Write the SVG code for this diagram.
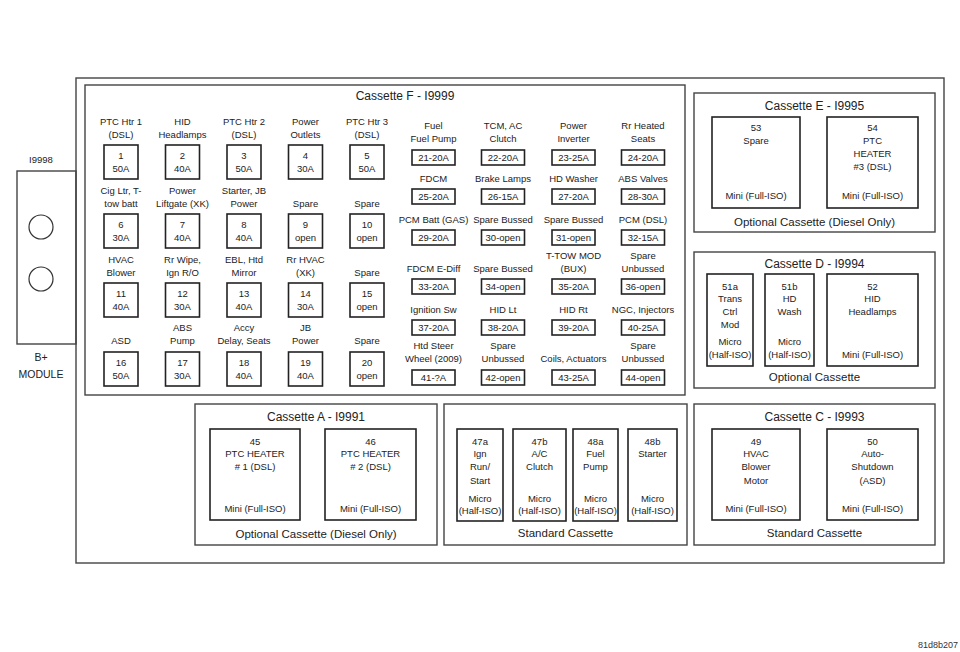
<svg xmlns="http://www.w3.org/2000/svg" width="960" height="652" viewBox="0 0 960 652">
<style>
text{font-family:"Liberation Sans",Arial,sans-serif;fill:#222;text-anchor:middle}
.s{font-size:9.5px}
.t{font-size:12px}
.b{font-size:11.5px}
.frame{fill:none;stroke:#444;stroke-width:1.4}
.box{fill:#fff;stroke:#222;stroke-width:1.6}
.fb{fill:#fff;stroke:#222;stroke-width:1.6}
</style>
<rect width="960" height="652" fill="#fff"/>
<g id="enclosure">
<rect class="frame" x="76" y="78" width="868" height="485"/>
</g>
<g id="bplus-module">
<rect class="frame" x="17" y="171" width="59" height="173"/>
<circle cx="41" cy="227" r="12" fill="none" stroke="#333" stroke-width="1.2"/>
<circle cx="41" cy="279" r="12" fill="none" stroke="#333" stroke-width="1.2"/>
<text class="s" x="41" y="163">I9998</text>
<text class="s" x="41" y="361" style="font-size:10.5px">B+</text>
<text class="s" x="41" y="378" style="font-size:10.5px">MODULE</text>
</g>
<g id="connectors"></g>
<g id="cassette-f">
<rect class="frame" x="85" y="85" width="600" height="310"/>
<text class="t" x="405" y="100">Cassette F - I9999</text>
<!-- row 1 -->
<g class="s">
<text x="121" y="125">PTC Htr 1</text><text x="121" y="138">(DSL)</text>
<rect class="fb" x="104" y="145" width="34" height="34"/><text x="121" y="159">1</text><text x="121" y="172">50A</text>
<text x="182.5" y="125">HID</text><text x="182.5" y="138">Headlamps</text>
<rect class="fb" x="165.5" y="145" width="34" height="34"/><text x="182.5" y="159">2</text><text x="182.5" y="172">40A</text>
<text x="244" y="125">PTC Htr 2</text><text x="244" y="138">(DSL)</text>
<rect class="fb" x="227" y="145" width="34" height="34"/><text x="244" y="159">3</text><text x="244" y="172">50A</text>
<text x="305.5" y="125">Power</text><text x="305.5" y="138">Outlets</text>
<rect class="fb" x="288.5" y="145" width="34" height="34"/><text x="305.5" y="159">4</text><text x="305.5" y="172">30A</text>
<text x="367" y="125">PTC Htr 3</text><text x="367" y="138">(DSL)</text>
<rect class="fb" x="350" y="145" width="34" height="34"/><text x="367" y="159">5</text><text x="367" y="172">50A</text>
<!-- row 2 -->
<text x="121" y="194">Cig Ltr, T-</text><text x="121" y="207">tow batt</text>
<rect class="fb" x="104" y="214" width="34" height="34"/><text x="121" y="228">6</text><text x="121" y="241">30A</text>
<text x="182.5" y="194">Power</text><text x="182.5" y="207">Liftgate (XK)</text>
<rect class="fb" x="165.5" y="214" width="34" height="34"/><text x="182.5" y="228">7</text><text x="182.5" y="241">40A</text>
<text x="244" y="194">Starter, JB</text><text x="244" y="207">Power</text>
<rect class="fb" x="227" y="214" width="34" height="34"/><text x="244" y="228">8</text><text x="244" y="241">40A</text>
<text x="305.5" y="207">Spare</text>
<rect class="fb" x="288.5" y="214" width="34" height="34"/><text x="305.5" y="228">9</text><text x="305.5" y="241">open</text>
<text x="367" y="207">Spare</text>
<rect class="fb" x="350" y="214" width="34" height="34"/><text x="367" y="228">10</text><text x="367" y="241">open</text>
<!-- row 3 -->
<text x="121" y="263">HVAC</text><text x="121" y="276">Blower</text>
<rect class="fb" x="104" y="283" width="34" height="34"/><text x="121" y="297">11</text><text x="121" y="310">40A</text>
<text x="182.5" y="263">Rr Wipe,</text><text x="182.5" y="276">Ign R/O</text>
<rect class="fb" x="165.5" y="283" width="34" height="34"/><text x="182.5" y="297">12</text><text x="182.5" y="310">30A</text>
<text x="244" y="263">EBL, Htd</text><text x="244" y="276">Mirror</text>
<rect class="fb" x="227" y="283" width="34" height="34"/><text x="244" y="297">13</text><text x="244" y="310">40A</text>
<text x="305.5" y="263">Rr HVAC</text><text x="305.5" y="276">(XK)</text>
<rect class="fb" x="288.5" y="283" width="34" height="34"/><text x="305.5" y="297">14</text><text x="305.5" y="310">30A</text>
<text x="367" y="276">Spare</text>
<rect class="fb" x="350" y="283" width="34" height="34"/><text x="367" y="297">15</text><text x="367" y="310">open</text>
<!-- row 4 -->
<text x="121" y="344">ASD</text>
<rect class="fb" x="104" y="352" width="34" height="34"/><text x="121" y="366">16</text><text x="121" y="379">50A</text>
<text x="182.5" y="331">ABS</text><text x="182.5" y="344">Pump</text>
<rect class="fb" x="165.5" y="352" width="34" height="34"/><text x="182.5" y="366">17</text><text x="182.5" y="379">30A</text>
<text x="244" y="331">Accy</text><text x="244" y="344">Delay, Seats</text>
<rect class="fb" x="227" y="352" width="34" height="34"/><text x="244" y="366">18</text><text x="244" y="379">40A</text>
<text x="305.5" y="331">JB</text><text x="305.5" y="344">Power</text>
<rect class="fb" x="288.5" y="352" width="34" height="34"/><text x="305.5" y="366">19</text><text x="305.5" y="379">40A</text>
<text x="367" y="344">Spare</text>
<rect class="fb" x="350" y="352" width="34" height="34"/><text x="367" y="366">20</text><text x="367" y="379">open</text>
<!-- right columns -->
<text x="433.5" y="129">Fuel</text><text x="433.5" y="142">Fuel Pump</text>
<rect class="fb" x="412" y="150" width="43" height="15"/><text x="433.5" y="161">21-20A</text>
<text x="503" y="129">TCM, AC</text><text x="503" y="142">Clutch</text>
<rect class="fb" x="481.5" y="150" width="43" height="15"/><text x="503" y="161">22-20A</text>
<text x="573.5" y="129">Power</text><text x="573.5" y="142">Inverter</text>
<rect class="fb" x="552" y="150" width="43" height="15"/><text x="573.5" y="161">23-25A</text>
<text x="643" y="129">Rr Heated</text><text x="643" y="142">Seats</text>
<rect class="fb" x="621.5" y="150" width="43" height="15"/><text x="643" y="161">24-20A</text>

<text x="433.5" y="182">FDCM</text>
<rect class="fb" x="412" y="189" width="43" height="15"/><text x="433.5" y="200">25-20A</text>
<text x="503" y="182">Brake Lamps</text>
<rect class="fb" x="481.5" y="189" width="43" height="15"/><text x="503" y="200">26-15A</text>
<text x="573.5" y="182">HD Washer</text>
<rect class="fb" x="552" y="189" width="43" height="15"/><text x="573.5" y="200">27-20A</text>
<text x="643" y="182">ABS Valves</text>
<rect class="fb" x="621.5" y="189" width="43" height="15"/><text x="643" y="200">28-30A</text>

<text x="433.5" y="223">PCM Batt (GAS)</text>
<rect class="fb" x="412" y="230" width="43" height="15"/><text x="433.5" y="241">29-20A</text>
<text x="503" y="223">Spare Bussed</text>
<rect class="fb" x="481.5" y="230" width="43" height="15"/><text x="503" y="241">30-open</text>
<text x="573.5" y="223">Spare Bussed</text>
<rect class="fb" x="552" y="230" width="43" height="15"/><text x="573.5" y="241">31-open</text>
<text x="643" y="223">PCM (DSL)</text>
<rect class="fb" x="621.5" y="230" width="43" height="15"/><text x="643" y="241">32-15A</text>

<text x="433.5" y="272">FDCM E-Diff</text>
<rect class="fb" x="412" y="279" width="43" height="15"/><text x="433.5" y="290">33-20A</text>
<text x="503" y="272">Spare Bussed</text>
<rect class="fb" x="481.5" y="279" width="43" height="15"/><text x="503" y="290">34-open</text>
<text x="573.5" y="259">T-TOW MOD</text><text x="573.5" y="272">(BUX)</text>
<rect class="fb" x="552" y="279" width="43" height="15"/><text x="573.5" y="290">35-20A</text>
<text x="643" y="259">Spare</text><text x="643" y="272">Unbussed</text>
<rect class="fb" x="621.5" y="279" width="43" height="15"/><text x="643" y="290">36-open</text>

<text x="433.5" y="313">Ignition Sw</text>
<rect class="fb" x="412" y="320" width="43" height="15"/><text x="433.5" y="331">37-20A</text>
<text x="503" y="313">HID Lt</text>
<rect class="fb" x="481.5" y="320" width="43" height="15"/><text x="503" y="331">38-20A</text>
<text x="573.5" y="313">HID Rt</text>
<rect class="fb" x="552" y="320" width="43" height="15"/><text x="573.5" y="331">39-20A</text>
<text x="643" y="313">NGC, Injectors</text>
<rect class="fb" x="621.5" y="320" width="43" height="15"/><text x="643" y="331">40-25A</text>

<text x="433.5" y="349">Htd Steer</text><text x="433.5" y="362">Wheel (2009)</text>
<rect class="fb" x="412" y="370" width="43" height="15"/><text x="433.5" y="381">41-?A</text>
<text x="503" y="349">Spare</text><text x="503" y="362">Unbussed</text>
<rect class="fb" x="481.5" y="370" width="43" height="15"/><text x="503" y="381">42-open</text>
<text x="573.5" y="362">Coils, Actuators</text>
<rect class="fb" x="552" y="370" width="43" height="15"/><text x="573.5" y="381">43-25A</text>
<text x="643" y="349">Spare</text><text x="643" y="362">Unbussed</text>
<rect class="fb" x="621.5" y="370" width="43" height="15"/><text x="643" y="381">44-open</text>
</g>
</g>
<g id="cassette-e">
<rect class="frame" x="694" y="93" width="241" height="139"/>
<text class="t" x="814.5" y="110">Cassette E - I9995</text>
<rect class="box" x="712" y="117" width="88" height="91"/>
<rect class="box" x="827" y="117" width="91" height="91"/>
<g class="s">
<text x="756" y="131">53</text><text x="756" y="144">Spare</text><text x="756" y="199">Mini (Full-ISO)</text>
<text x="872.5" y="131">54</text><text x="872.5" y="144">PTC</text><text x="872.5" y="157">HEATER</text><text x="872.5" y="170">#3 (DSL)</text><text x="872.5" y="199">Mini (Full-ISO)</text>
</g>
<text class="b" x="814.5" y="226">Optional Cassette (Diesel Only)</text>
</g>
<g id="cassette-d">
<rect class="frame" x="694" y="252" width="241" height="136"/>
<text class="t" x="814.5" y="268">Cassette D - I9994</text>
<rect class="box" x="707" y="274" width="46" height="92"/>
<rect class="box" x="765" y="274" width="49" height="92"/>
<rect class="box" x="827" y="274" width="91" height="92"/>
<g class="s">
<text x="730" y="290">51a</text><text x="730" y="302">Trans</text><text x="730" y="315">Ctrl</text><text x="730" y="328">Mod</text><text x="730" y="345">Micro</text><text x="730" y="358">(Half-ISO)</text>
<text x="789.5" y="290">51b</text><text x="789.5" y="302">HD</text><text x="789.5" y="315">Wash</text><text x="789.5" y="345">Micro</text><text x="789.5" y="358">(Half-ISO)</text>
<text x="872.5" y="290">52</text><text x="872.5" y="302">HID</text><text x="872.5" y="315">Headlamps</text><text x="872.5" y="358">Mini (Full-ISO)</text>
</g>
<text class="b" x="814.5" y="381">Optional Cassette</text>
</g>
<g id="cassette-a">
<rect class="frame" x="195" y="404" width="242" height="141"/>
<text class="t" x="316" y="421">Cassette A - I9991</text>
<rect class="box" x="210" y="429" width="90" height="91"/>
<rect class="box" x="325" y="429" width="91" height="91"/>
<g class="s">
<text x="255" y="445">45</text><text x="255" y="457">PTC HEATER</text><text x="255" y="470"># 1 (DSL)</text><text x="255" y="512">Mini (Full-ISO)</text>
<text x="370.5" y="445">46</text><text x="370.5" y="457">PTC HEATER</text><text x="370.5" y="470"># 2 (DSL)</text><text x="370.5" y="512">Mini (Full-ISO)</text>
</g>
<text class="b" x="316" y="538">Optional Cassette (Diesel Only)</text>
</g>
<g id="standard-cassette">
<rect class="frame" x="444" y="404" width="243" height="141"/>
<rect class="box" x="457" y="429" width="46" height="92"/>
<rect class="box" x="513" y="429" width="53" height="92"/>
<rect class="box" x="573" y="429" width="45" height="92"/>
<rect class="box" x="628" y="429" width="49" height="92"/>
<g class="s">
<text x="480" y="445">47a</text><text x="480" y="457">Ign</text><text x="480" y="470">Run/</text><text x="480" y="484">Start</text><text x="480" y="502">Micro</text><text x="480" y="514">(Half-ISO)</text>
<text x="539.5" y="445">47b</text><text x="539.5" y="457">A/C</text><text x="539.5" y="470">Clutch</text><text x="539.5" y="502">Micro</text><text x="539.5" y="514">(Half-ISO)</text>
<text x="595.5" y="445">48a</text><text x="595.5" y="457">Fuel</text><text x="595.5" y="470">Pump</text><text x="595.5" y="502">Micro</text><text x="595.5" y="514">(Half-ISO)</text>
<text x="652.5" y="445">48b</text><text x="652.5" y="457">Starter</text><text x="652.5" y="502">Micro</text><text x="652.5" y="514">(Half-ISO)</text>
</g>
<text class="b" x="565.5" y="537">Standard Cassette</text>
</g>
<g id="cassette-c">
<rect class="frame" x="694" y="404" width="241" height="141"/>
<text class="t" x="814.5" y="421">Cassette C - I9993</text>
<rect class="box" x="712" y="429" width="88" height="91"/>
<rect class="box" x="827" y="429" width="91" height="91"/>
<g class="s">
<text x="756" y="445">49</text><text x="756" y="457">HVAC</text><text x="756" y="470">Blower</text><text x="756" y="484">Motor</text><text x="756" y="512">Mini (Full-ISO)</text>
<text x="872.5" y="445">50</text><text x="872.5" y="457">Auto-</text><text x="872.5" y="470">Shutdown</text><text x="872.5" y="484">(ASD)</text><text x="872.5" y="512">Mini (Full-ISO)</text>
</g>
<text class="b" x="814.5" y="537">Standard Cassette</text>
</g>
<text x="958" y="648" style="font-size:9px;text-anchor:end;fill:#333">81d8b207</text>
</svg>
